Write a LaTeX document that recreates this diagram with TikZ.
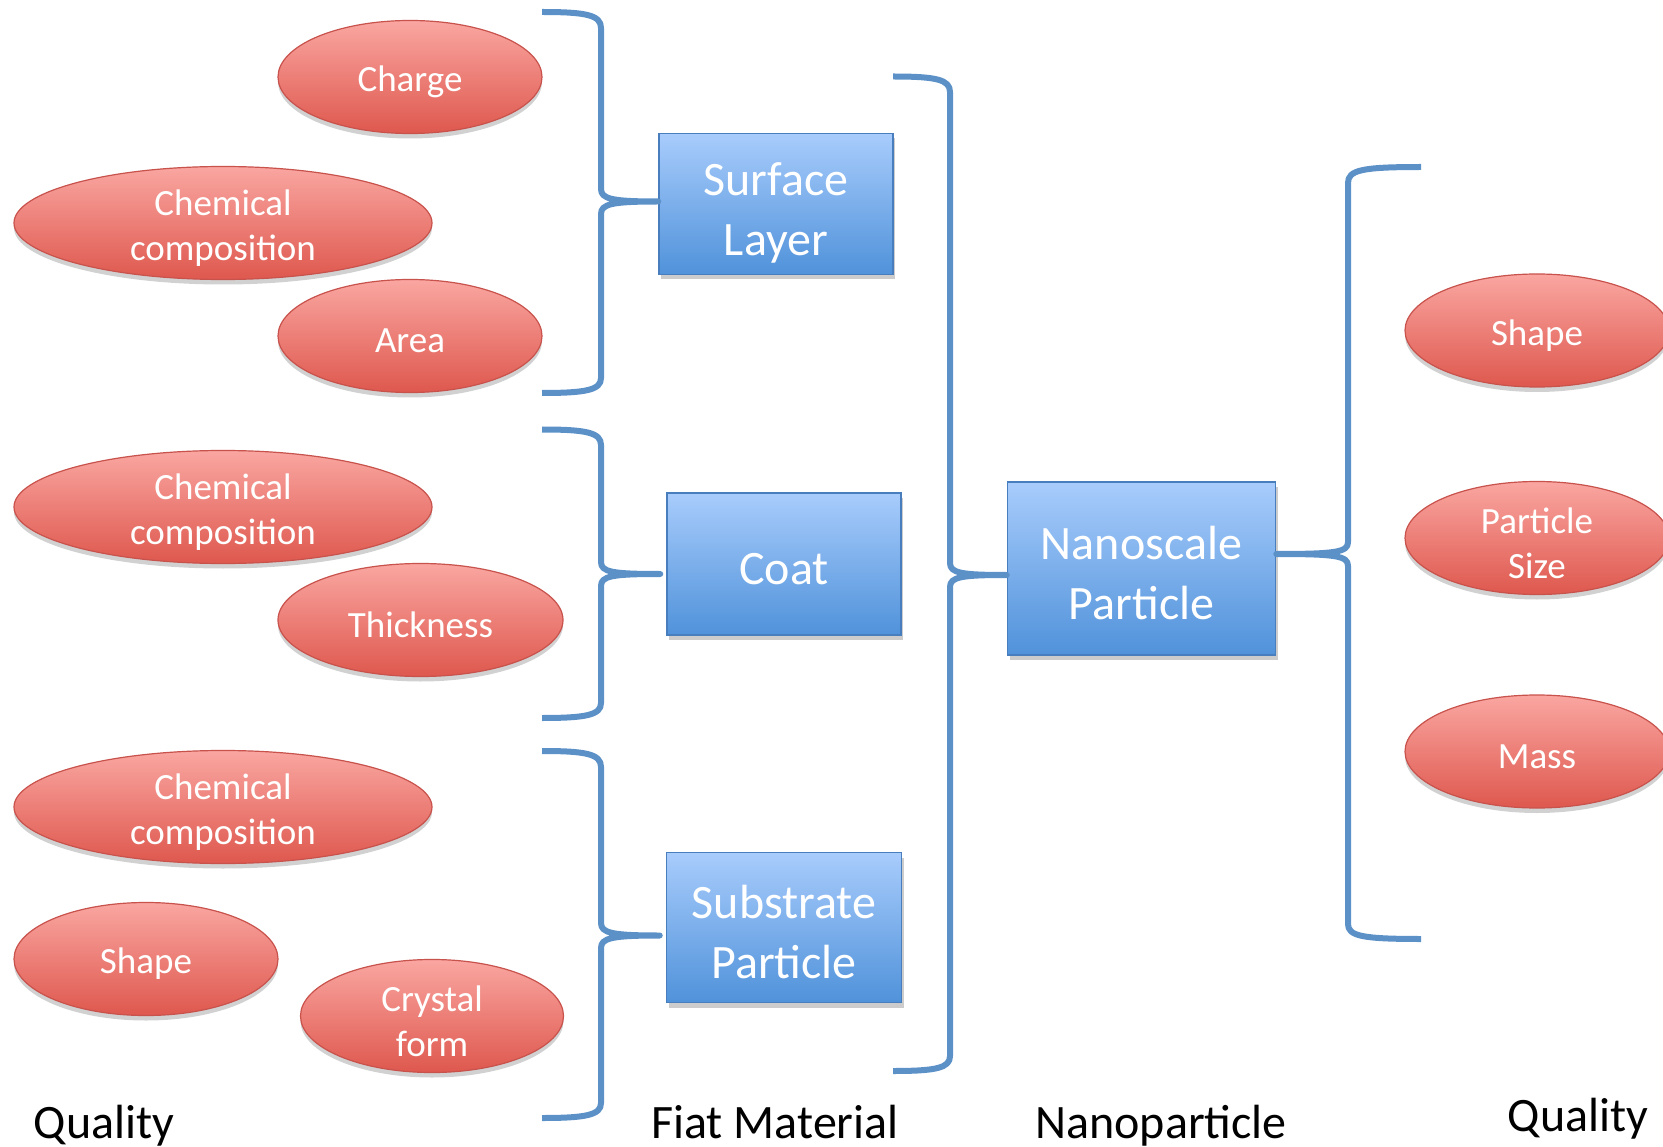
\documentclass[tikz,border=0pt]{standalone}
\usepackage{fontspec}
\setmainfont{Carlito}
\usetikzlibrary{shapes.geometric,shadows}
\definecolor{elltop}{RGB}{250,166,161}
\definecolor{ellbot}{RGB}{222,88,78}
\definecolor{ellline}{RGB}{200,82,76}
\definecolor{boxtop}{RGB}{168,204,252}
\definecolor{boxbot}{RGB}{80,146,218}
\definecolor{boxline}{RGB}{72,125,190}
\definecolor{bracec}{RGB}{92,145,200}
\tikzset{
 quality/.style={ellipse, draw=ellline, line width=1.2pt, top color=elltop, bottom color=ellbot,
   inner sep=0pt, minimum height=113pt,
   drop shadow={shadow xshift=0pt, shadow yshift=-5pt, opacity=0.18, fill=black}},
 qtext/.style={text=white, align=center, inner sep=0pt, yshift=-5pt,
   font=\fontsize{37}{45}\selectfont},
 entity/.style={rectangle, draw=boxline, line width=1.5pt, top color=boxtop, bottom color=boxbot,
   inner sep=0pt,
   drop shadow={shadow xshift=2pt, shadow yshift=-5pt, opacity=0.2, fill=black}},
 etext/.style={text=white, align=center, inner sep=0pt, yshift=-5pt,
   font=\fontsize{48}{60}\selectfont},
 brace/.style={draw=bracec, line width=6pt, line cap=butt, line join=round},
 lbl/.style={font=\fontsize{48}{56}\selectfont, anchor=base, text=black},
}
\begin{document}
\begin{tikzpicture}[x=1pt,y=-1pt]
\useasboundingbox (0,0) rectangle (1663,1147);
\clip (0,0) rectangle (1663,1147);
\fill[white] (0,0) rectangle (1663,1147);

% left qualities
\node[quality, minimum width=264pt, label={[qtext]center:Charge}] (charge) at (410,77) {};
\node[quality, minimum width=418pt, label={[qtext]center:{Chemical\\composition}}] (chem1) at (223,223) {};
\node[quality, minimum width=264pt, label={[qtext]center:Area}] (area) at (410,336) {};
\node[quality, minimum width=418pt, label={[qtext]center:{Chemical\\composition}}] (chem2) at (223,507) {};
\node[quality, minimum width=285pt, label={[qtext]center:Thickness}] (thick) at (420.5,620) {};
\node[quality, minimum width=418pt, label={[qtext]center:{Chemical\\composition}}] (chem3) at (223,807) {};
\node[quality, minimum width=264pt, label={[qtext]center:Shape}] (shapeL) at (146,959) {};
\node[quality, minimum width=263pt, label={[qtext]center:{Crystal\\form}}] (crystal) at (432,1016) {};

% right qualities
\node[quality, minimum width=264pt, label={[qtext]center:Shape}] (shapeR) at (1537,330.5) {};
\node[quality, minimum width=264pt, label={[qtext]center:{Particle\\Size}}] (psize) at (1537,538) {};
\node[quality, minimum width=264pt, label={[qtext]center:Mass}] (mass) at (1537,751.5) {};

% fiat material boxes
\node[entity, minimum width=234pt, minimum height=141pt, label={[etext, yshift=-4pt]center:{Surface\\Layer}}] (sl) at (776,204) {};
\node[entity, minimum width=234pt, minimum height=142pt, label={[etext]center:Coat}] (coat) at (784,564) {};
\node[entity, minimum width=235pt, minimum height=150pt, label={[etext]center:{Substrate\\Particle}}] (sub) at (784,927.5) {};
\node[entity, minimum width=268pt, minimum height=173pt, label={[etext]center:{Nanoscale\\Particle}}] (np) at (1141.5,568.5) {};

% brace end points
\coordinate (b1t) at (542,12);
\coordinate (b1b) at (542,393);
\coordinate (t1) at ([shift={(0,-2.5)}]sl.west);
\coordinate (b2t) at (542,429.5);
\coordinate (b2b) at (542,718);
\coordinate (t2) at ([shift={(-6,10)}]coat.west);
\coordinate (b3t) at (542,751);
\coordinate (b3b) at (542,1118);
\coordinate (t3) at ([shift={(-6,8)}]sub.west);
\coordinate (b4t) at (893,76.5);
\coordinate (b4b) at (893,1071);
\coordinate (t4) at ([shift={(0,6.5)}]np.west);
\coordinate (b5t) at (1421,167);
\coordinate (b5b) at (1421,939);
\coordinate (t5) at ([shift={(0,-14.5)}]np.east);

% braces
\draw[brace] (b1t) .. controls (586,12) and (601,15) .. (601,28) -- (601,189)
  .. controls (601,199) and (612,201.5) .. (t1)
  .. controls (612,201.5) and (601,204) .. (601,214) -- (601,378)
  .. controls (601,390) and (586,393) .. (b1b);
\draw[brace] (b2t) .. controls (586,429.5) and (601,432.5) .. (601,445) -- (601,562)
  .. controls (601,572) and (612,574) .. (t2)
  .. controls (612,574) and (601,576) .. (601,586) -- (601,703)
  .. controls (601,715) and (586,718) .. (b2b);
\draw[brace] (b3t) .. controls (586,751) and (601,754) .. (601,767) -- (601,923)
  .. controls (601,933) and (612,935.5) .. (t3)
  .. controls (612,935.5) and (601,938) .. (601,948) -- (601,1103)
  .. controls (601,1115) and (586,1118) .. (b3b);
\draw[brace] (b4t) .. controls (936,76.5) and (950,79.5) .. (950,92) -- (950,563)
  .. controls (950,573) and (961,575) .. (t4)
  .. controls (961,575) and (950,577) .. (950,587) -- (950,1056)
  .. controls (950,1068) and (936,1071) .. (b4b);
\draw[brace] (b5t) .. controls (1362,167) and (1348,170) .. (1348,183) -- (1348,542)
  .. controls (1348,552) and (1337,554) .. (t5)
  .. controls (1337,554) and (1348,556) .. (1348,566) -- (1348,924)
  .. controls (1348,936) and (1362,939) .. (b5b);

% column labels
\node[lbl] (qL) at (104,1138) {Quality};
\node[lbl] (fm) at (775,1138) {Fiat Material};
\node[lbl] (nano) at (1161,1138) {Nanoparticle};
\node[lbl] (qR) at (1578,1131) {Quality};
\end{tikzpicture}
\end{document}
